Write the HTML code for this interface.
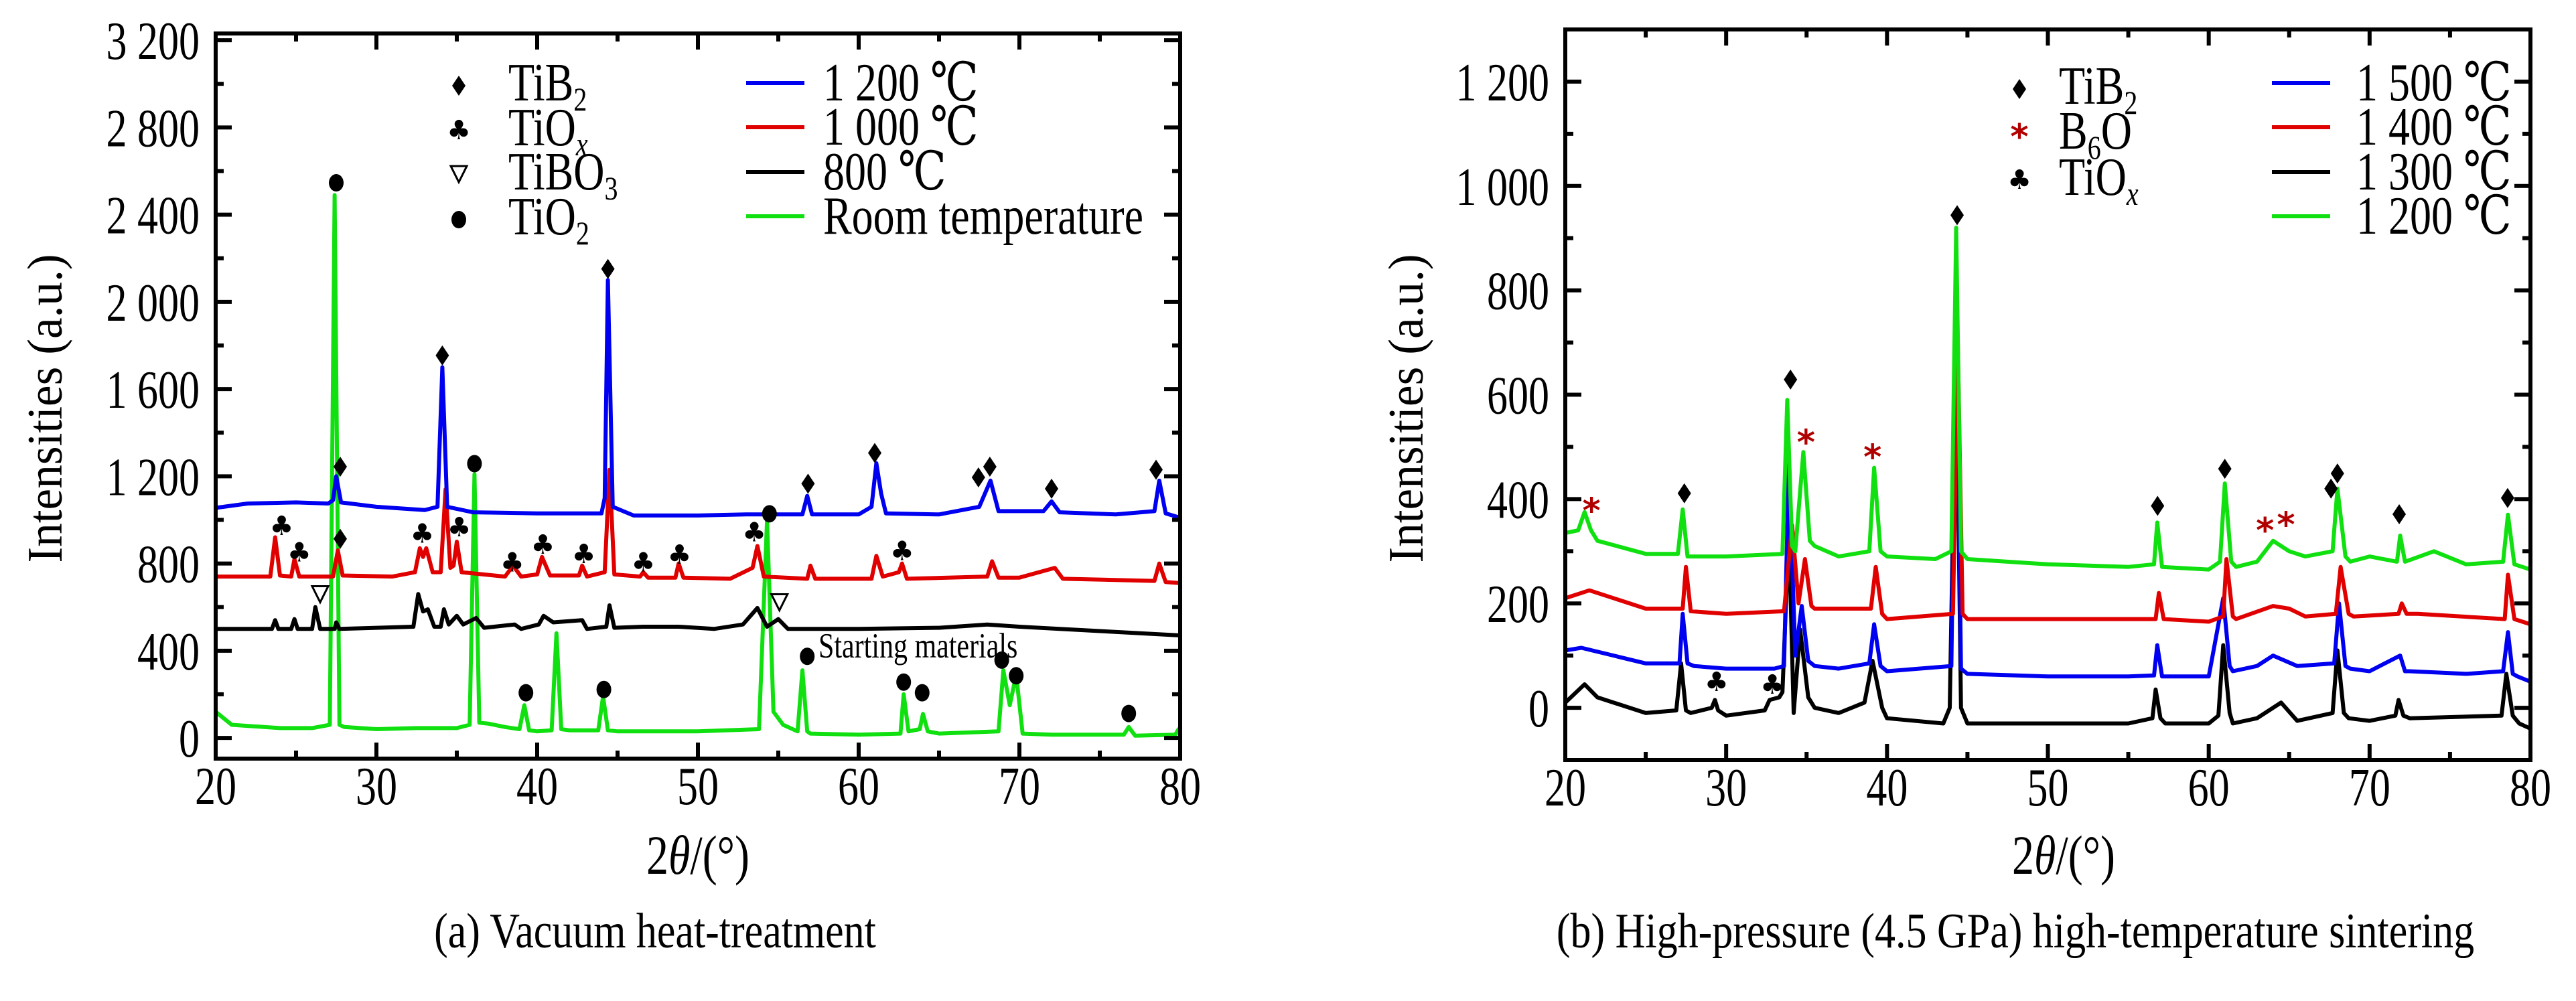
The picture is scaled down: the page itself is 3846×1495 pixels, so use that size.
<!DOCTYPE html>
<html><head><meta charset="utf-8">
<style>
html,body{margin:0;padding:0;background:#fff;}
svg{display:block;font-family:"Liberation Serif","DejaVu Serif",serif;}
</style></head>
<body>
<svg id="fig" width="3846" height="1495" viewBox="0 0 3846 1495" xmlns="http://www.w3.org/2000/svg">
<g id="pa"></g>
<g id="pb"></g>
<text x="0" y="0" transform="translate(92,610) rotate(-90) scale(1.15,1.2)" text-anchor="middle" font-size="62">Intensities (a.u.)</text>
<g transform="translate(1042,1305) scale(1,1.25)"><text x="0" y="0" text-anchor="middle" font-size="66">2<tspan font-style="italic">θ</tspan>/(°)</text></g>
<g transform="translate(978,1415) scale(1,1.2)"><text x="0" y="0" text-anchor="middle" font-size="62">(a) Vacuum heat-treatment</text></g>
<text x="0" y="0" transform="translate(2124,610) rotate(-90) scale(1.15,1.2)" text-anchor="middle" font-size="62">Intensities (a.u.)</text>
<g transform="translate(3081,1305) scale(1,1.25)"><text x="0" y="0" text-anchor="middle" font-size="66">2<tspan font-style="italic">θ</tspan>/(°)</text></g>
<g transform="translate(3009,1415) scale(1,1.2)"><text x="0" y="0" text-anchor="middle" font-size="62">(b) High-pressure (4.5 GPa) high-temperature sintering</text></g>
<g transform="translate(1222,982) scale(1,1.25)"><text x="0" y="0" font-size="42">Starting materials</text></g>

<g font-size="64">
<g transform="translate(759,150) scale(1,1.25)"><text>TiB<tspan font-size="40" dy="12">2</tspan></text></g>
<g transform="translate(759,217) scale(1,1.25)"><text>TiO<tspan font-size="40" dy="12" font-style="italic">x</tspan></text></g>
<g transform="translate(759,283) scale(1,1.25)"><text>TiBO<tspan font-size="40" dy="12">3</tspan></text></g>
<g transform="translate(759,350) scale(1,1.25)"><text>TiO<tspan font-size="40" dy="12">2</tspan></text></g>
<line x1="1114" y1="124" x2="1201" y2="124" stroke="#0000f0" stroke-width="6"/>
<line x1="1114" y1="190" x2="1201" y2="190" stroke="#e00000" stroke-width="6"/>
<line x1="1114" y1="257" x2="1201" y2="257" stroke="#000" stroke-width="6"/>
<line x1="1114" y1="323" x2="1201" y2="323" stroke="#10e010" stroke-width="6"/>
<g transform="translate(1229,150) scale(1,1.25)"><text>1 200 ℃</text></g>
<g transform="translate(1229,216) scale(1,1.25)"><text>1 000 ℃</text></g>
<g transform="translate(1229,283) scale(1,1.25)"><text>800 ℃</text></g>
<g transform="translate(1229,349) scale(1,1.25)"><text>Room temperature</text></g>
</g>
<g font-size="64">
<g transform="translate(3074,155) scale(1,1.25)"><text>TiB<tspan font-size="40" dy="12">2</tspan></text></g>
<g transform="translate(3074,222) scale(1,1.25)"><text>B<tspan font-size="40" dy="12">6</tspan><tspan dy="-12">O</tspan></text></g>
<g transform="translate(3074,291) scale(1,1.25)"><text>TiO<tspan font-size="40" dy="12" font-style="italic">x</tspan></text></g>
<line x1="3392" y1="124" x2="3479" y2="124" stroke="#0000f0" stroke-width="6"/>
<line x1="3392" y1="190" x2="3479" y2="190" stroke="#e00000" stroke-width="6"/>
<line x1="3392" y1="257" x2="3479" y2="257" stroke="#000" stroke-width="6"/>
<line x1="3392" y1="323" x2="3479" y2="323" stroke="#10e010" stroke-width="6"/>
<g transform="translate(3518,150) scale(1,1.25)"><text>1 500 ℃</text></g>
<g transform="translate(3518,216) scale(1,1.25)"><text>1 400 ℃</text></g>
<g transform="translate(3518,283) scale(1,1.25)"><text>1 300 ℃</text></g>
<g transform="translate(3518,349) scale(1,1.25)"><text>1 200 ℃</text></g>
</g>
</svg>
<script>
// ---------- Panel A data ----------
const aYTicks = [0,400,800,1200,1600,2000,2400,2800,3200];
const aYTickLabels = ["0","400","800","1 200","1 600","2 000","2 400","2 800","3 200"];
const xTicks = [20,30,40,50,60,70,80];
const aBlue = [[20,1055],[22,1075],[25,1080],[27,1075],[27.3,1090],[27.5,1200],[27.8,1080],[30,1060],[33,1045],[33.8,1060],[34.1,1700],[34.4,1060],[36,1035],[40,1030],[44,1030],[44.2,1100],[44.4,2100],[44.7,1060],[46,1020],[50,1020],[53,1025],[56.5,1025],[56.8,1110],[57.1,1025],[60,1025],[60.8,1060],[61.1,1260],[61.4,1120],[61.7,1030],[65,1025],[67.5,1060],[68.2,1180],[68.7,1040],[71.5,1040],[72,1085],[72.5,1035],[76,1025],[78.4,1040],[78.7,1180],[79.1,1030],[80,1010]];
const aRed = [[20,740],[23.4,740],[23.7,920],[24,745],[24.7,740],[24.9,820],[25.2,740],[27.3,740],[27.6,860],[27.9,745],[31,740],[32.4,760],[32.7,870],[32.9,830],[33.1,870],[33.5,760],[34.0,760],[34.3,1140],[34.6,780],[34.8,790],[35.0,900],[35.3,760],[38,740],[38.5,790],[39,740],[40,750],[40.3,830],[40.8,745],[42.6,745],[42.8,790],[43.1,740],[44.2,760],[44.5,1230],[44.8,750],[46.4,740],[46.6,760],[46.9,735],[48.6,735],[48.8,800],[49.1,735],[52,730],[53.4,780],[53.7,880],[54.1,740],[56.8,730],[57,790],[57.3,730],[60.8,730],[61.1,835],[61.5,740],[62.5,760],[62.7,800],[63.0,730],[68,740],[68.3,810],[68.7,735],[70,735],[72.2,780],[72.7,730],[78.4,720],[78.7,800],[79.1,715],[80,710]];
const aBlack = [[20,500],[23.5,500],[23.7,540],[23.9,500],[24.7,500],[24.9,545],[25.1,500],[26.0,500],[26.2,600],[26.5,500],[27.4,500],[27.5,530],[27.7,500],[32.3,510],[32.6,660],[32.9,580],[33.2,590],[33.6,510],[34.0,510],[34.2,590],[34.5,520],[35,560],[35.4,520],[36.2,550],[36.7,505],[38.6,520],[39,500],[40.1,520],[40.4,560],[41,530],[42.8,540],[43.1,500],[44.3,510],[44.5,608],[44.8,505],[46.6,510],[48.8,510],[51,500],[52.8,520],[53.7,596],[54.3,510],[55,545],[55.6,500],[60,500],[65,505],[68,520],[70,510],[75,490],[80,470]];
const aGreen = [[20,120],[21,60],[24,45],[26,45],[27.1,60],[27.4,2490],[27.7,60],[28,50],[30,40],[32.5,45],[35,45],[35.8,60],[36.1,1210],[36.4,70],[37,65],[38,50],[38.9,40],[39.2,150],[39.5,35],[40,30],[40.9,35],[41.2,480],[41.5,40],[42,35],[43.8,35],[44.1,190],[44.4,35],[45,30],[50,30],[53.8,40],[54.3,1000],[54.7,120],[55.3,60],[56.2,30],[56.5,310],[56.8,30],[57,20],[60,15],[62.6,20],[62.8,200],[63.1,30],[63.8,40],[64.0,110],[64.3,30],[65,20],[68.7,30],[69.0,310],[69.4,150],[69.8,290],[70.2,20],[72,15],[76.5,15],[76.8,50],[77.2,10],[79.7,15],[79.9,40],[80,15]];
const aDiamonds = [[27.75,1244],[34.1,1754],[44.4,2151],[56.85,1166],[61.0,1307],[67.45,1195],[68.16,1244],[72.0,1143],[78.5,1230],[27.75,913]];
const aClubs = [[24.1,970],[25.2,850],[32.85,936],[35.15,965],[38.45,803],[40.35,884],[42.9,841],[46.6,803],[48.85,838],[53.5,942],[62.7,855]];
const aTriangles = [[26.5,662],[55.07,625]];
const aCircles = [[27.5,2546],[36.1,1258],[39.3,207],[44.15,222],[54.45,1028],[56.8,374],[62.8,256],[63.95,207],[68.9,357],[69.8,285],[76.8,112]];

// ---------- Panel B data ----------
const bYTicks = [0,200,400,600,800,1000,1200];
const bYTickLabels = ["0","200","400","600","800","1 000","1 200"];
const bGreen = [[20,335],[20.8,340],[21.2,375],[21.6,340],[22,320],[25,295],[27.0,295],[27.3,380],[27.6,290],[30,290],[33.5,295],[33.8,590],[34.1,310],[34.3,300],[34.8,490],[35.2,320],[35.5,310],[37,290],[38.9,300],[39.2,460],[39.6,300],[40,290],[43,285],[44.0,300],[44.3,920],[44.6,300],[45,285],[50,275],[55,270],[56.6,275],[56.8,355],[57.1,270],[60,265],[60.7,280],[61,430],[61.4,280],[61.7,270],[63,280],[64,320],[65,300],[66,290],[67.7,300],[68,420],[68.5,290],[68.8,280],[70,290],[71.7,280],[71.9,330],[72.2,280],[74,300],[76,275],[78.3,280],[78.6,370],[79,275],[80,265]];
const bRed = [[20,210],[21.5,225],[25,190],[27.3,190],[27.5,270],[27.8,185],[30,180],[33.6,185],[34.1,350],[34.5,200],[34.9,285],[35.3,195],[35.5,190],[39,190],[39.3,270],[39.7,180],[40,170],[44.1,180],[44.4,700],[44.7,180],[45,170],[50,170],[56.7,170],[56.9,220],[57.2,170],[60,165],[60.9,175],[61.1,285],[61.5,175],[61.7,170],[64,195],[65,190],[66,175],[67.9,180],[68.2,270],[68.7,180],[69,175],[71.8,180],[72,200],[72.3,180],[73,180],[78.4,170],[78.6,255],[79,170],[80,160]];
const bBlue = [[20,110],[21,115],[25,85],[27.1,85],[27.3,180],[27.6,85],[28,80],[30,75],[33,75],[33.6,80],[33.9,470],[34.3,100],[34.7,195],[35.1,90],[35.5,80],[37,75],[38.9,85],[39.2,160],[39.6,80],[40,70],[44.0,80],[44.3,770],[44.6,75],[45,65],[50,60],[55,60],[56.6,62],[56.8,120],[57.1,60],[57.3,60],[60,60],[60.9,210],[61.3,80],[61.5,70],[63,80],[64,100],[65.5,80],[67.8,85],[68.1,200],[68.5,80],[68.8,75],[70,70],[71.9,100],[72.2,70],[72.5,70],[76,65],[78.3,70],[78.6,145],[78.9,65],[79.2,60],[80,50]];
const bBlack = [[20,10],[21.2,45],[22,20],[25,-10],[26.9,-5],[27.2,85],[27.5,-5],[27.8,-10],[29.1,0],[29.3,15],[29.5,-5],[30,-15],[32.4,-5],[32.7,15],[33.3,20],[33.5,30],[33.9,340],[34.2,-10],[34.6,150],[35.1,20],[35.5,0],[37,-10],[38.6,10],[39.1,90],[39.7,0],[40,-20],[43.5,-30],[43.9,0],[44.3,700],[44.6,0],[45,-30],[50,-30],[55,-30],[56.5,-20],[56.7,35],[57.0,-20],[57.3,-30],[60,-30],[60.6,-15],[60.9,120],[61.3,-10],[61.5,-30],[63,-20],[64.5,10],[65.5,-25],[67.7,-10],[68,110],[68.4,-10],[68.7,-20],[70,-25],[71.6,-15],[71.8,15],[72.1,-15],[72.5,-20],[78.2,-15],[78.5,65],[78.9,-15],[79.3,-30],[80,-40]];
const bDiamonds = [[27.4,411],[34.0,629],[44.36,944],[56.82,387],[61.0,458],[67.6,420],[68.0,449],[71.84,371],[78.58,402]];
const bStars = [[21.63,383],[34.96,514],[39.1,486],[63.5,345],[64.8,356]];
const bClubs = [[29.4,49],[32.87,44]];

const NS = "http://www.w3.org/2000/svg";
function mk(parent, tag, attrs){const e=document.createElementNS(NS,tag);for(const k in attrs)e.setAttribute(k,attrs[k]);parent.appendChild(e);return e;}

function panel(g, cfg){
  const {L,R,T,B,xMin,xMax,yMin,yMax,yTicks,yLabels,yMinor} = cfg;
  const sx = v => L + (v-xMin)/(xMax-xMin)*(R-L);
  const sy = v => B - (v-yMin)/(yMax-yMin)*(B-T);
  cfg.sx=sx; cfg.sy=sy;
  cfg.series.forEach(s=>{
    const p = mk(g,'polyline',{points:s.data.map(d=>sx(d[0]).toFixed(1)+','+sy(d[1]).toFixed(1)).join(' '),fill:'none',stroke:s.color,'stroke-width':6,'stroke-linejoin':'round'});
    
    
  });
  const fr = mk(g,'rect',{x:L,y:T,width:R-L,height:B-T,fill:'none',stroke:'#000','stroke-width':6});
  
  
  for(let v=xMin; v<=xMax; v+=5){
    const len = (v%10===0)?24:12, x=sx(v);
    mk(g,'line',{x1:x,y1:B,x2:x,y2:B-len,stroke:'#000','stroke-width':6});
    mk(g,'line',{x1:x,y1:T,x2:x,y2:T+len,stroke:'#000','stroke-width':6});
  }
  xTicks.forEach(v=>{
    const w = mk(g,'g',{transform:`translate(${sx(v)},${B+68}) scale(1,1.3)`});
    const t = mk(w,'text',{x:0,y:0,'text-anchor':'middle','font-size':62});
    t.textContent = String(v);
    
    
  });
  for(let v=yTicks[0]-yMinor*Math.floor((yTicks[0]-yMin)/yMinor); v<=yMax; v+=yMinor){
    const major = yTicks.includes(v); const len = major?24:12, y=sy(v);
    if(y<T||y>B) continue;
    mk(g,'line',{x1:L,y1:y,x2:L+len,y2:y,stroke:'#000','stroke-width':6});
    mk(g,'line',{x1:R,y1:y,x2:R-len,y2:y,stroke:'#000','stroke-width':6});
  }
  yTicks.forEach((v,i)=>{
    const w = mk(g,'g',{transform:`translate(${L-24},${sy(v)+28}) scale(1,1.3)`});
    const t = mk(w,'text',{x:0,y:0,'text-anchor':'end','font-size':62});
    t.textContent = yLabels[i];
    
    
  });
}
function diamond(g,x,y){const e=mk(g,'path',{d:`M${x},${y-15} L${x+10},${y} L${x},${y+15} L${x-10},${y} Z`,fill:'#000'});}
function club(g,x,y){const e=mk(g,'text',{x:x,y:y+13,'text-anchor':'middle','font-size':40,'font-family':'DejaVu Sans, sans-serif'});e.textContent='♣';}
function tri(g,x,y){const e=mk(g,'path',{d:`M${x-12},${y-11} L${x+12},${y-11} L${x},${y+13} Z`,fill:'#fff',stroke:'#000','stroke-width':3});}
function circ(g,x,y){const e=mk(g,'ellipse',{cx:x,cy:y,rx:11,ry:13,fill:'#000'});}
function star(g,x,y){const e=mk(g,'text',{x:x,y:y+22,'text-anchor':'middle','font-size':52,fill:'#b00000','font-family':'DejaVu Sans, sans-serif','font-weight':'bold'});e.textContent='*';}

const pa=document.getElementById('pa'), pb=document.getElementById('pb');
const A={L:322,R:1762,T:50,B:1133,xMin:20,xMax:80,yMin:-95,yMax:3231,yTicks:aYTicks,yLabels:aYTickLabels,yMinor:200,
  series:[{name:'series-room-temperature',data:aGreen,color:'#10e010'},{name:'series-800C',data:aBlack,color:'#000'},{name:'series-1000C',data:aRed,color:'#e00000'},{name:'series-1200C',data:aBlue,color:'#0000f0'}]};
panel(pa,A);
aDiamonds.forEach(d=>diamond(pa,A.sx(d[0]),A.sy(d[1])));
aClubs.forEach(d=>club(pa,A.sx(d[0]),A.sy(d[1])));
aTriangles.forEach(d=>tri(pa,A.sx(d[0]),A.sy(d[1])));
aCircles.forEach(d=>circ(pa,A.sx(d[0]),A.sy(d[1])));
diamond(pa,685,128); club(pa,685,195); tri(pa,685,259); circ(pa,685,328);

const Bc={L:2337,R:3778,T:44,B:1135,xMin:20,xMax:80,yMin:-100,yMax:1300,yTicks:bYTicks,yLabels:bYTickLabels,yMinor:100,
  series:[{name:'series-1300C',data:bBlack,color:'#000'},{name:'series-1500C',data:bBlue,color:'#0000f0'},{name:'series-1400C',data:bRed,color:'#e00000'},{name:'series-1200C-b',data:bGreen,color:'#10e010'}]};
panel(pb,Bc);
bDiamonds.forEach(d=>diamond(pb,Bc.sx(d[0]),Bc.sy(d[1])));
bStars.forEach(d=>star(pb,Bc.sx(d[0]),Bc.sy(d[1])));
bClubs.forEach(d=>club(pb,Bc.sx(d[0]),Bc.sy(d[1])));
diamond(pb,3015,133); star(pb,3015,200); club(pb,3015,269);
</script>
</body></html>
